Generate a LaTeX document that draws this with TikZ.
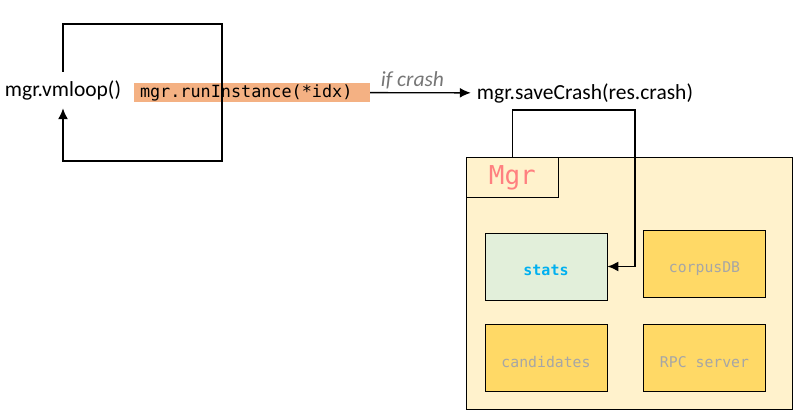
\documentclass[tikz,border=0pt]{standalone}
\usepackage{fontspec}
\setmainfont{Carlito}
\setmonofont{DejaVu Sans Mono}
\usetikzlibrary{shapes,arrows.meta,positioning}
\definecolor{runorange}{RGB}{244,177,131}
\definecolor{mgrfill}{RGB}{255,242,204}
\definecolor{statfill}{RGB}{226,239,218}
\definecolor{partfill}{RGB}{255,217,102}
\definecolor{partgray}{RGB}{166,166,166}
\definecolor{statblue}{RGB}{0,176,240}
\definecolor{mgrred}{RGB}{255,128,128}
\definecolor{labelgray}{RGB}{118,118,118}
\def\Big{\fontsize{21.5}{24}\selectfont}
\def\Code{\fontsize{16.8}{18}\selectfont\ttfamily}

\begin{document}
\begin{tikzpicture}[x=1pt,y=-1pt,% pixel grid, y downwards
				every node/.style={
					align=center,		% so that "\\" would break lines
					inner sep=0pt
				},
				part/.style={
					rectangle,draw=black,line width=0.8pt,fill=partfill,
					minimum width=122pt,minimum height=67pt,
					text height=19pt,text depth=0pt,	% pushes the text a bit below the middle
					font=\fontsize{14.8}{16}\selectfont\ttfamily,text=partgray
				},
				loopline/.style={draw,line width=1.6pt},
				every edge/.style={draw,line width=1.4pt},
				>={Latex[length=11pt,width=10pt]}
			]
			\useasboundingbox (0,0) rectangle (801,419);
			% the vm loop
			\node[minimum height=36pt,font=\Big](Vm) at (63,90){mgr.vmloop()};
			\node[rectangle,fill=runorange,text width=224pt,inner xsep=6pt,align=left,minimum height=19pt,font=\Code](Run) at (252,92.5){mgr.runInstance(*idx)};
			\draw[loopline,->] (Vm.north) |- (222,24) -- (222,161) -| (Vm.south);
			\node[minimum height=34pt,inner xsep=6pt,font=\Big](Save) at (585,93){mgr.saveCrash(res.crash)};
			% the manager
			\node[rectangle,draw=black,line width=0.8pt,fill=mgrfill,minimum width=326pt,minimum height=252pt,anchor=north west](Mgr) at (466,157){};
			\node[rectangle,draw=black,line width=0.8pt,minimum width=92pt,minimum height=40pt,anchor=north west,
				font=\fontsize{26}{28}\selectfont\ttfamily,text=mgrred](Tab) at (Mgr.north west){Mgr};
			\node[part,fill=statfill,text=statblue,font=\fontsize{15}{16}\selectfont\ttfamily\bfseries](Stats) at (546,266.5){stats};
			\node[part](Corpus) at (704.5,263.5){corpusDB};
			\node[part](Cand) at (546,358){candidates};
			\node[part](Rpc) at (704.5,358){RPC server};
			\path[->]
			(Run)edge []	node [above=3pt,pos=0.42,font=\Big\itshape,text=labelgray] {if crash} (Save)
			;
			\draw[loopline,->] (Tab.north) |- ([xshift=50pt]Save.south) |- (Stats.east);
		\end{tikzpicture}
\end{document}
